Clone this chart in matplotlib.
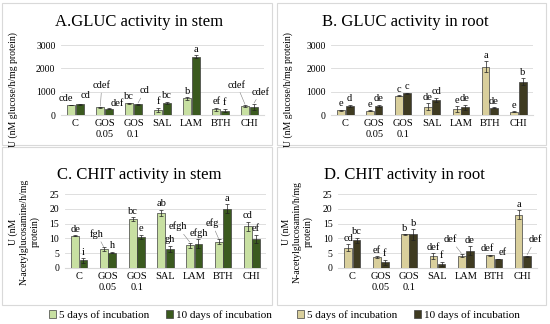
import matplotlib.pyplot as plt
import numpy as np
from matplotlib.patches import Rectangle, Patch

plt.rcParams['font.family'] = ['Liberation Serif', 'DejaVu Serif']

# data
categories = ['C', 'GOS\n0.05', 'GOS\n0.1', 'SAL', 'LAM', 'BTH', 'CHI']

gluc_stem_5 = [430, 330, 510, 210, 710, 250, 380]
gluc_stem_5_err = [20, 20, 20, 100, 60, 60, 50]
gluc_stem_10 = [460, 260, 470, 530, 2500, 190, 360]
gluc_stem_10_err = [20, 20, 20, 40, 70, 80, 130]
gluc_stem_5_lab = ['cde', 'cdef', 'bc', 'f', 'b', 'ef', 'cdef']
gluc_stem_10_lab = ['cd', 'def', 'cd', 'bc', 'a', 'f', 'cdef']

gluc_root_5 = [210, 185, 830, 360, 260, 2070, 140]
gluc_root_5_err = [20, 30, 20, 150, 120, 230, 20]
gluc_root_10 = [400, 385, 930, 640, 330, 310, 1430]
gluc_root_10_err = [40, 60, 20, 100, 110, 20, 150]
gluc_root_5_lab = ['e', 'e', 'c', 'de', 'e', 'a', 'e']
gluc_root_10_lab = ['d', 'de', 'c', 'cd', 'de', 'de', 'b']

chit_stem_5 = [10.9, 6.4, 16.5, 18.7, 7.6, 8.9, 14.1]
chit_stem_5_err = [0.2, 0.6, 0.7, 1.0, 1.0, 0.8, 1.6]
chit_stem_10 = [2.6, 5.2, 10.5, 6.4, 8.2, 20.0, 9.8]
chit_stem_10_err = [0.8, 0.3, 0.8, 1.1, 1.5, 1.5, 1.5]
chit_stem_5_lab = ['de', 'fgh', 'bc', 'ab', 'efgh', 'efg', 'cd']
chit_stem_10_lab = ['i', 'h', 'e', 'gh', 'efgh', 'a', 'ef']

chit_root_5 = [6.8, 3.6, 11.4, 4.0, 4.2, 4.3, 18.0]
chit_root_5_err = [1.2, 0.3, 0.1, 1.0, 0.6, 0.2, 1.6]
chit_root_10 = [9.3, 1.9, 11.4, 1.4, 5.9, 3.0, 3.9]
chit_root_10_err = [1.0, 0.9, 1.8, 0.7, 1.5, 0.1, 0.3]
chit_root_5_lab = ['cd', 'ef', 'b', 'def', 'def', 'def', 'a']
chit_root_10_lab = ['bc', 'f', 'b', 'f', 'de', 'ef', 'def']

series_names = ['5 days of incubation', '10 days of incubation']

GREEN = ['#c8e0a2', '#3b5a1f']
OLIVE = ['#d9cf9c', '#3f3b21']
EDGE = '#404040'
GRID = '#d9d9d9'


def plot_panel(ax, v5, e5, v10, e10, lab5, lab10, colors, ymax, ystep, moves):
    """
    Draw one clustered bar panel with error bars and letter labels.

    moves (dict): {(category index, series): (dx, dy, line)} for labels that
        are shifted away from the bar top; line=True ties them back with a
        thin leader line.
    """
    x = np.arange(len(categories))
    w = 0.27
    for k, (vals, errs, labs) in enumerate([(v5, e5, lab5), (v10, e10, lab10)]):
        pos = x + (k - 0.5) * (w + 0.02)
        ax.bar(pos, vals, w, color=colors[k], edgecolor=EDGE, linewidth=0.5, zorder=3)
        ax.errorbar(pos, vals, yerr=errs, fmt='none', ecolor='#202020',
                    elinewidth=0.5, capsize=1.6, capthick=0.5, zorder=4)
        for i, (p, v, e, t) in enumerate(zip(pos, vals, errs, labs)):
            dx, dy, line = moves.get((i, k), (0, 1, False))
            arrow = None
            if line:
                arrow = dict(arrowstyle='-', lw=0.4, color='#808080',
                             shrinkA=0, shrinkB=0.5)
            ax.annotate(t, (p, v + e), xytext=(dx, dy), textcoords='offset points',
                        ha='center', va='bottom', fontsize=7.5, annotation_clip=False,
                        arrowprops=arrow)

    ax.set_xlim(-0.5, len(categories) - 0.5)
    ax.set_ylim(0, ymax)
    ax.set_yticks(np.arange(0, ymax + ystep / 2, ystep))
    ax.set_xticks(x, labels=categories)
    ax.yaxis.grid(True, color=GRID, linewidth=0.6, zorder=0)
    ax.set_axisbelow(True)
    for s in ['top', 'right', 'left']:
        ax.spines[s].set_visible(False)
    ax.spines['bottom'].set_color(GRID)
    ax.spines['bottom'].set_linewidth(0.8)
    ax.tick_params(axis='both', length=0, labelsize=7.5, pad=3)
    ax.tick_params(axis='y', labelsize=7, pad=4)
    ax.set_facecolor('none')


fig = plt.figure(figsize=(5.5, 3.24), dpi=100)

# panel frames
for (x0, y0, x1, y1) in [(2, 3, 272, 145), (277, 3, 546, 145),
                         (2, 147, 272, 305), (277, 147, 546, 305)]:
    fig.patches.append(Rectangle((x0 / 550, 1 - y1 / 324), (x1 - x0) / 550,
                                 (y1 - y0) / 324, transform=fig.transFigure,
                                 fill=False, edgecolor='#d9d9d9', linewidth=0.8))

ax_a = fig.add_axes([0.111, 0.645, 0.369, 0.216])
ax_b = fig.add_axes([0.602, 0.645, 0.367, 0.216])
ax_c = fig.add_axes([0.118, 0.173, 0.366, 0.228])
ax_d = fig.add_axes([0.615, 0.173, 0.361, 0.228])

plot_panel(ax_a, gluc_stem_5, gluc_stem_5_err, gluc_stem_10, gluc_stem_10_err,
           gluc_stem_5_lab, gluc_stem_10_lab, GREEN, 3000, 1000,
           {(0, 0): (-4, 1, False), (0, 1): (4, 3, False),
            (1, 0): (1, 12, True), (1, 1): (6, 0, False), (2, 1): (5, 6, True),
            (6, 0): (-6, 11, True), (6, 1): (5, 5, True)})
plot_panel(ax_b, gluc_root_5, gluc_root_5_err, gluc_root_10, gluc_root_10_err,
           gluc_root_5_lab, gluc_root_10_lab, OLIVE, 3000, 1000, {})
plot_panel(ax_c, chit_stem_5, chit_stem_5_err, chit_stem_10, chit_stem_10_err,
           chit_stem_5_lab, chit_stem_10_lab, GREEN, 25, 5,
           {(1, 0): (-5, 6, True), (4, 0): (-9, 8, True), (5, 0): (-5, 8, True)})
plot_panel(ax_d, chit_root_5, chit_root_5_err, chit_root_10, chit_root_10_err,
           chit_root_5_lab, chit_root_10_lab, OLIVE, 25, 5,
           {(4, 0): (-8, 7, True), (6, 1): (6, 8, True),
            (5, 0): (-2, 1, False), (5, 1): (3, 1, False)})

# panel titles
fig.text(139 / 550, 1 - 22 / 324, 'A.GLUC activity in stem', ha='center', va='center', fontsize=12)
fig.text(405 / 550, 1 - 22 / 324, 'B. GLUC activity in root', ha='center', va='center', fontsize=12)
fig.text(139 / 550, 1 - 175 / 324, 'C. CHIT activity in stem', ha='center', va='center', fontsize=12)
fig.text(404 / 550, 1 - 175 / 324, 'D. CHIT activity in root', ha='center', va='center', fontsize=12)

# y axis titles
fig.text(13 / 550, 1 - 90 / 324, 'U (nM glucose/h/mg protein)', rotation=90,
         ha='center', va='center', fontsize=7)
fig.text(288 / 550, 1 - 90 / 324, 'U (nM glucose/h/mg protein)', rotation=90,
         ha='center', va='center', fontsize=7)
fig.text(24 / 550, 1 - 232 / 324, 'U (nM\nN-acetylglucosamine/h/mg\nprotein)', rotation=90,
         ha='center', va='center', fontsize=7, multialignment='center', linespacing=1.25)
fig.text(297 / 550, 1 - 232 / 324, 'U (nM\nN-acetylglucosamin/h/mg\nprotein)', rotation=90,
         ha='center', va='center', fontsize=7, multialignment='center', linespacing=1.25)

# legends under the bottom panels
for cols, cx in [(GREEN, 160), (OLIVE, 408)]:
    handles = [Patch(facecolor=c, edgecolor=EDGE, linewidth=0.5) for c in cols]
    fig.legend(handles, series_names, loc='center', bbox_to_anchor=(cx / 550, 1 - 315 / 324),
               ncol=2, frameon=False, fontsize=8, handlelength=0.7, handleheight=0.7,
               handletextpad=0.2, columnspacing=1.5, borderpad=0)

fig.savefig('out.png', dpi=100)
